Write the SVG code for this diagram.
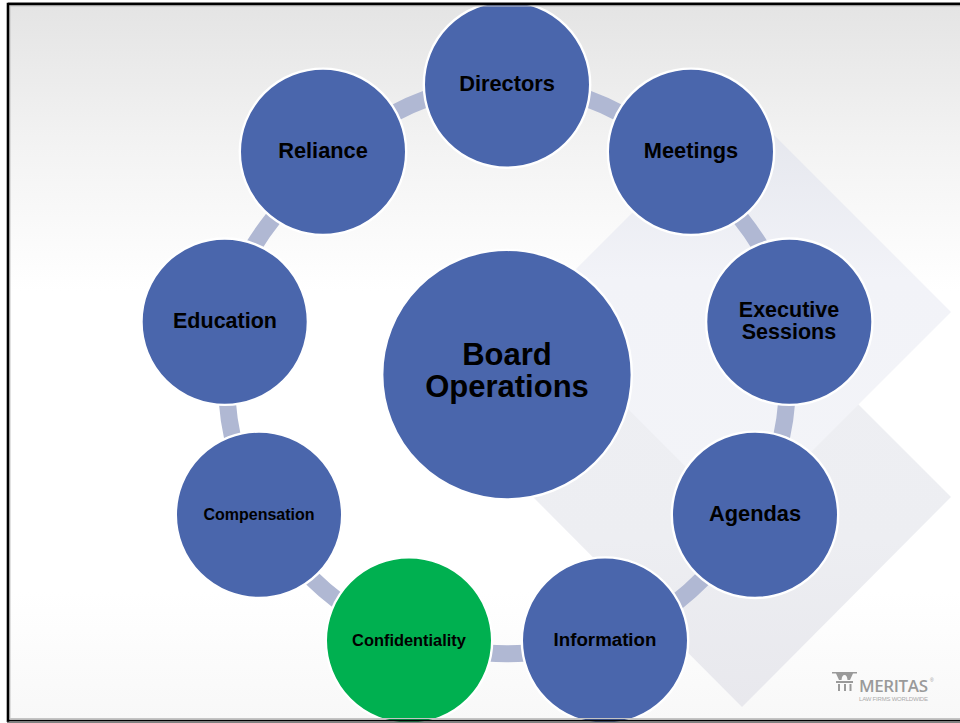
<svg xmlns="http://www.w3.org/2000/svg" width="960" height="723" viewBox="0 0 960 723">
<style>
.n{fill:#4a66ac;stroke:#fff;stroke-width:2.400}
.t{font-family:"Liberation Sans",Arial,sans-serif;font-weight:700;fill:#000;text-anchor:middle}
.c{fill:none;stroke:#b0b8d3;stroke-width:17}
</style>
<defs>
<linearGradient id="bg" x1="0" y1="0" x2="0" y2="1">
<stop offset="0" stop-color="#e4e4e4"/><stop offset="0.2" stop-color="#f3f3f3"/><stop offset="0.4" stop-color="#ffffff"/><stop offset="0.82" stop-color="#ffffff"/><stop offset="1" stop-color="#f8f8f8"/>
</linearGradient>
<linearGradient id="d1" x1="0" y1="0" x2="0" y2="1">
<stop offset="0" stop-color="#e3e5ec"/><stop offset="0.42" stop-color="#f2f3f8"/><stop offset="1" stop-color="#f3f4f8"/>
</linearGradient>
<linearGradient id="d2" x1="0" y1="0" x2="0" y2="1">
<stop offset="0" stop-color="#eeeff3"/><stop offset="0.6" stop-color="#edeef2"/><stop offset="1" stop-color="#e8e8ed"/>
</linearGradient>
</defs>
<rect width="960" height="723" fill="#fff"/>
<rect x="8" y="4" width="952" height="717" fill="url(#bg)"/>
<g id="background-shapes">
<polygon points="742,288 951,497 742,707 533,497" fill="url(#d2)"/>
<polygon points="742,103 951,312 741,522 532,313" fill="url(#d1)"/>
</g>
<g id="connectors">
<path class="c" d="M584.500 97.500A290 290 0 0 1 622.500 114.500"/>
<path class="c" d="M740.500 218A290 290 0 0 1 761.500 248"/>
<path class="c" d="M787 399A290 290 0 0 1 781 440"/>
<path class="c" d="M703.500 578A290 290 0 0 1 675.500 603"/>
<path class="c" d="M528 653A290 290 0 0 1 486 653"/>
<path class="c" d="M339.500 602A290 290 0 0 1 310.500 577"/>
<path class="c" d="M233 440A290 290 0 0 1 227 399"/>
<path class="c" d="M252.500 248A290 290 0 0 1 273.500 218"/>
<path class="c" d="M391.500 114.500A290 290 0 0 1 429.500 97.500"/>
</g>
<g id="center"><circle class="n" cx="507" cy="374.700" r="124.800"/><text class="t" font-size="31" x="507" y="365">Board</text><text class="t" font-size="31" x="507" y="397">Operations</text></g>
<g id="directors"><circle class="n" cx="507" cy="84.500" r="83.200"/><text class="t" font-size="21.800" x="507" y="91">Directors</text></g>
<g id="meetings"><circle class="n" cx="691" cy="151.800" r="83.200"/><text class="t" font-size="21.800" x="691" y="158">Meetings</text></g>
<g id="executive-sessions"><circle class="n" cx="789.300" cy="321.700" r="83.200"/><text class="t" font-size="21.500" x="789" y="317">Executive</text><text class="t" font-size="21.500" x="789" y="339">Sessions</text></g>
<g id="agendas"><circle class="n" cx="755" cy="514.800" r="83.200"/><text class="t" font-size="21.800" x="755" y="521">Agendas</text></g>
<g id="information"><circle class="n" cx="605" cy="640.600" r="83.200"/><text class="t" font-size="18.700" x="605" y="646">Information</text></g>
<g id="confidentiality"><circle class="n" style="fill:#00b050" cx="409" cy="640.600" r="83.200"/><text class="t" font-size="16.400" x="409" y="646">Confidentiality</text></g>
<g id="compensation"><circle class="n" cx="259" cy="514.800" r="83.200"/><text class="t" font-size="16" x="259" y="520">Compensation</text></g>
<g id="education"><circle class="n" cx="224.700" cy="321.700" r="83.200"/><text class="t" font-size="21.500" x="225" y="328">Education</text></g>
<g id="reliance"><circle class="n" cx="323" cy="151.800" r="83.200"/><text class="t" font-size="21.800" x="323" y="158">Reliance</text></g>
<g id="frame" fill="none">
<path d="M8 2.500H960" stroke="#b0b0b0" stroke-width="1"/>
<path d="M10 6H960M10 6V718.500H960" stroke="#c4c4c4" stroke-width="1"/>
<path d="M8 722V4H960" stroke="#000" stroke-width="2.600"/>
<path d="M7 720.600H960" stroke="#000" stroke-width="1.800"/>
<path d="M7 722.400H960" stroke="#808080" stroke-width="1.200"/>
</g>
<g id="logo" fill="#9a9a9a">
<path d="M832 672H857V673.500H853L850 680H847.500Q847 675 844.500 675Q842 675 841.500 680H839L836 673.500H832Z"/>
<rect x="836" y="681" width="17" height="2"/><rect x="838" y="684" width="2" height="7"/><rect x="844" y="684" width="2" height="7"/><rect x="849.500" y="684" width="2" height="7"/>
<text x="859" y="691.500" font-family="'Open Sans','Liberation Sans',sans-serif" font-size="17" font-weight="600" textLength="69" lengthAdjust="spacing">MERITAS</text>
<text x="930" y="682" font-family="'Liberation Sans',sans-serif" font-size="5">®</text>
<text x="859" y="701" fill="#aaa" font-family="'Liberation Sans',sans-serif" font-size="6" textLength="69" lengthAdjust="spacing">LAW FIRMS WORLDWIDE</text>
</g>
</svg>
